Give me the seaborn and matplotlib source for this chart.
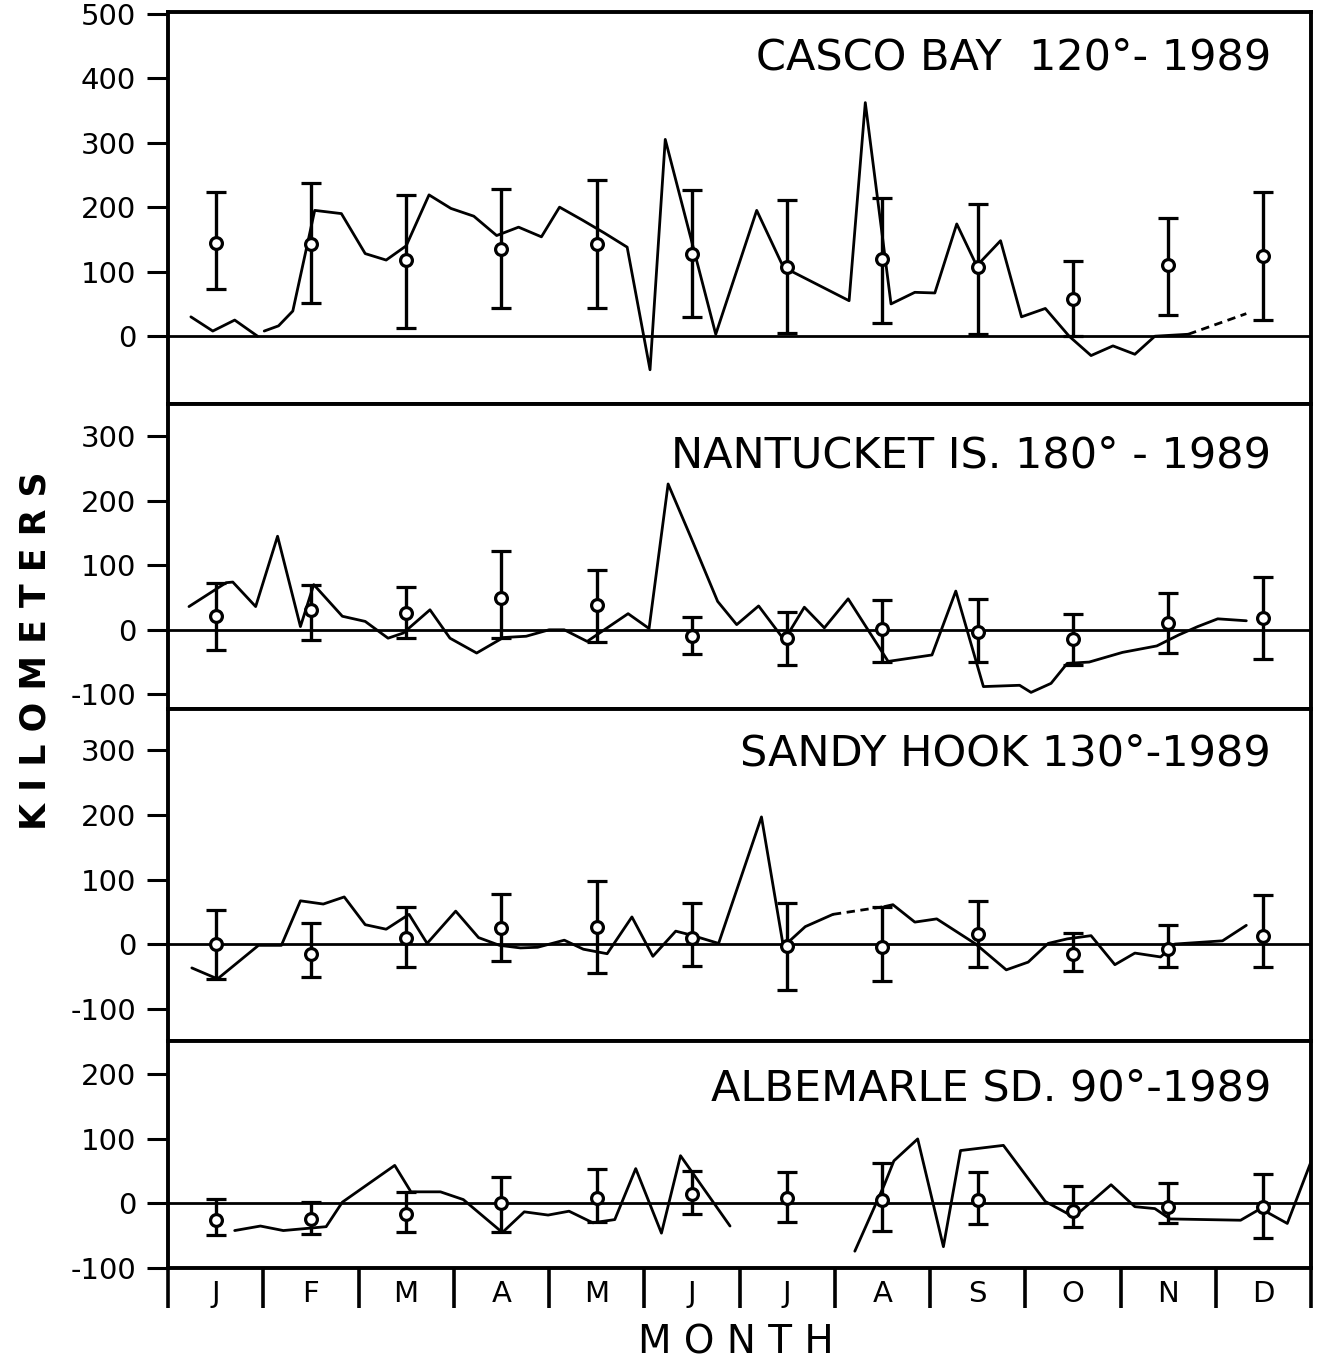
import numpy as np
import pandas as pd
import matplotlib
matplotlib.use("Agg")
import matplotlib.pyplot as plt
import seaborn as sns

# --- data (x in months from 1 Jan, y in km) ---
MONTHS = ["J", "F", "M", "A", "M", "J", "J", "A", "S", "O", "N", "D"]
nan = np.nan

casco_t = [0.24, 0.47, 0.70, 0.94, nan, 1.01, 1.16, 1.31, 1.54, 1.82, 2.07, 2.29, 2.50,
           2.74, 2.97, 3.21, 3.45, 3.68, 3.92, 4.11, 4.35, 4.58, 4.82, 5.06, 5.22, 5.75,
           6.18, 6.46, 7.15, 7.32, 7.59, 7.84, 8.05, 8.28, 8.49, 8.74, 8.96, 9.21, 9.46,
           9.69, 9.92, 10.15, 10.36, 10.71]
casco_km = [30, 8, 25, 0, nan, 8, 16, 39, 195, 190, 128, 118, 140,
            219, 198, 186, 156, 169, 154, 200, 180, 160, 138, -52, 305, 3,
            195, 107, 55, 362, 50, 68, 67, 174, 109, 148, 30, 43, 0,
            -30, -15, -28, 0, 3]
casco_dash_t = [10.71, 11.32]
casco_dash_km = [3, 35]
casco_mean = [145, 143, 118, 135, 143, 128, 108, 120, 107, 58, 110, 125]
casco_lo = [73, 52, 13, 43, 43, 30, 5, 21, 3, 1, 33, 25]
casco_hi = [224, 237, 219, 228, 242, 226, 211, 214, 205, 116, 183, 223]

nant_t = [0.22, 0.61, 0.68, 0.92, 1.15, 1.39, 1.53, 1.83, 2.07, 2.31, 2.47, 2.75, 2.96,
          3.24, 3.52, 3.76, 4.00, 4.16, 4.40, 4.55, 4.83, 5.05, 5.25, 5.49, 5.77, 5.97,
          6.20, 6.47, 6.68, 6.89, 7.14, 7.56, 8.02, 8.27, 8.56, 8.94, 9.06, 9.27, 9.44,
          9.67, 10.02, 10.38, 10.61, 10.81, 11.02, 11.32]
nant_km = [36, 73, 74, 36, 145, 5, 70, 21, 13, -13, -5, 31, -13,
           -36, -12, -10, 0, 0, -18, -3, 25, 2, 226, 143, 44, 8,
           37, -16, 35, 3, 48, -49, -39, 60, -88, -86, -97, -83, -52,
           -50, -35, -25, -8, 5, 17, 14]
nant_dash_t = []
nant_dash_km = []
nant_mean = [22, 30, 26, 50, 38, -10, -12, 2, -4, -15, 10, 18]
nant_lo = [-32, -16, -12, -13, -19, -37, -55, -50, -50, -54, -36, -46]
nant_hi = [73, 70, 67, 122, 93, 20, 27, 46, 48, 25, 57, 82]

sandy_t = [0.25, 0.52, 0.95, 1.19, 1.39, 1.63, 1.85, 2.07, 2.29, 2.53, 2.72, 3.02, 3.26,
           3.48, 3.70, 3.88, 4.16, 4.36, 4.61, 4.87, 5.09, 5.33, 5.49, 5.78, 6.23, 6.46,
           6.69, 6.98, nan, 7.52, 7.61, 7.84, 8.07, 8.48, 8.80, 9.03, 9.24, 9.44, 9.69,
           9.94, 10.15, 10.42, 10.57, 11.07, 11.32]
sandy_km = [-37, -54, -2, -2, 67, 62, 73, 30, 23, 46, 1, 51, 10,
            -2, -6, -5, 6, -8, -15, 42, -19, 20, 14, 1, 197, -4,
            27, 46, nan, 58, 61, 34, 39, 0, -40, -28, 1, 8, 13,
            -32, -14, -20, 0, 5, 29]
sandy_dash_t = [6.98, 7.52]
sandy_dash_km = [46, 58]
sandy_mean = [0, -15, 9, 25, 26, 10, -3, -5, 15, -16, -7, 13]
sandy_lo = [-54, -51, -35, -26, -45, -34, -71, -58, -36, -41, -35, -35]
sandy_hi = [52, 33, 57, 78, 98, 64, 64, 57, 67, 17, 29, 76]

alb_t = [0.70, 0.97, 1.21, 1.66, 1.83, 2.38, 2.55, 2.86, 3.10, 3.51, 3.74, 3.99, 4.21,
         4.46, 4.69, 4.91, 5.18, 5.38, 5.90, nan, 7.21, 7.52, 7.62, 7.87, 8.14, 8.32,
         8.77, 9.21, 9.51, 9.90, 10.15, 10.36, 10.52, 11.26, 11.47, 11.75, 12.0]
alb_km = [-42, -35, -42, -36, 2, 59, 18, 18, 6, -45, -13, -18, -12,
          -30, -25, 54, -46, 74, -35, nan, -74, 29, 66, 100, -67, 82,
          90, 3, -21, 29, -5, -8, -24, -26, -8, -31, 65]
alb_dash_t = []
alb_dash_km = []
alb_mean = [-25, -24, -16, 1, 9, 14, 8, 5, 5, -12, -5, -5]
alb_lo = [-49, -47, -44, -44, -28, -17, -29, -42, -32, -37, -30, -53]
alb_hi = [7, 3, 18, 41, 54, 51, 48, 62, 48, 27, 31, 45]

panels = [
    ("CASCO BAY  120°- 1989", casco_t, casco_km, casco_dash_t, casco_dash_km,
     casco_mean, casco_lo, casco_hi, (-105, 502), [0, 100, 200, 300, 400, 500], 0.885),
    ("NANTUCKET IS. 180° - 1989", nant_t, nant_km, nant_dash_t, nant_dash_km,
     nant_mean, nant_lo, nant_hi, (-122, 350), [-100, 0, 100, 200, 300], 0.83),
    ("SANDY HOOK 130°-1989", sandy_t, sandy_km, sandy_dash_t, sandy_dash_km,
     sandy_mean, sandy_lo, sandy_hi, (-150, 365), [-100, 0, 100, 200, 300], 0.865),
    ("ALBEMARLE SD. 90°-1989", alb_t, alb_km, alb_dash_t, alb_dash_km,
     alb_mean, alb_lo, alb_hi, (-100, 252), [-100, 0, 100, 200], 0.79),
]

sns.set_theme(style="white")
plt.rcParams["font.family"] = ["DejaVu Sans"]
plt.rcParams["axes.unicode_minus"] = False
plt.rcParams["text.color"] = "black"

ratios = [p[8][1] - p[8][0] for p in panels]
fig = plt.figure(figsize=(13.23, 13.64), dpi=100)
gs = fig.add_gridspec(4, 1, height_ratios=ratios, hspace=0,
                      left=0.127, right=0.991, top=0.991, bottom=0.0704)

mid = np.arange(12) + 0.5

for i, (title, t, km, dt, dkm, mean, lo, hi, ylim, yticks, ty) in enumerate(panels):
    ax = fig.add_subplot(gs[i])
    df = pd.DataFrame({"month": t, "km": km})
    df["seg"] = df["km"].isna().cumsum()
    for _, part in df.dropna().groupby("seg"):
        sns.lineplot(data=part, x="month", y="km", ax=ax, color="black", lw=2.0,
                     sort=False, estimator=None)
    if dt:
        sns.lineplot(x=dt, y=dkm, ax=ax, color="black", lw=2.0, sort=False,
                     estimator=None, linestyle=(0, (3, 2)))
    mean = np.array(mean)
    yerr = [mean - np.array(lo), np.array(hi) - mean]
    ax.errorbar(mid, mean, yerr=yerr, fmt="o", color="black", ms=8.5, mfc="white",
                mec="black", mew=2.3, elinewidth=2.4, capsize=7, capthick=2.4, zorder=4)
    ax.axhline(0, color="black", lw=2.0, zorder=1)

    ax.set_xlim(0, 12)
    ax.set_ylim(*ylim)
    ax.set_yticks(yticks)
    ax.set_yticklabels([str(v) for v in yticks])
    ax.tick_params(axis="y", direction="out", length=15, width=2.2, labelsize=21,
                   pad=8, left=True, colors="black")
    ax.set_xlabel("")
    ax.set_ylabel("")
    for s in ax.spines.values():
        s.set_linewidth(2.8)
        s.set_color("black")
    ax.text(0.965, ty, title, transform=ax.transAxes, ha="right", va="center",
            fontsize=31, color="black")

    if i < 3:
        ax.set_xticks([])
    else:
        ax.set_xticks(np.arange(13))
        ax.set_xticklabels([])
        ax.set_xticks(mid, minor=True)
        ax.set_xticklabels(MONTHS, minor=True)
        ax.tick_params(axis="x", which="major", direction="out", length=29,
                       width=2.6, bottom=True, colors="black")
        ax.tick_params(axis="x", which="minor", length=0, pad=9, labelsize=21,
                       colors="black")

fig.text(0.027, 0.523, "K I L O M E T E R S", rotation=90, fontsize=25,
         ha="center", va="center", fontweight="bold", color="black")
fig.text(0.556, 0.016, "M O N T H", fontsize=28, ha="center", va="center",
         color="black")

fig.savefig("out.png", dpi=100, facecolor="white")
